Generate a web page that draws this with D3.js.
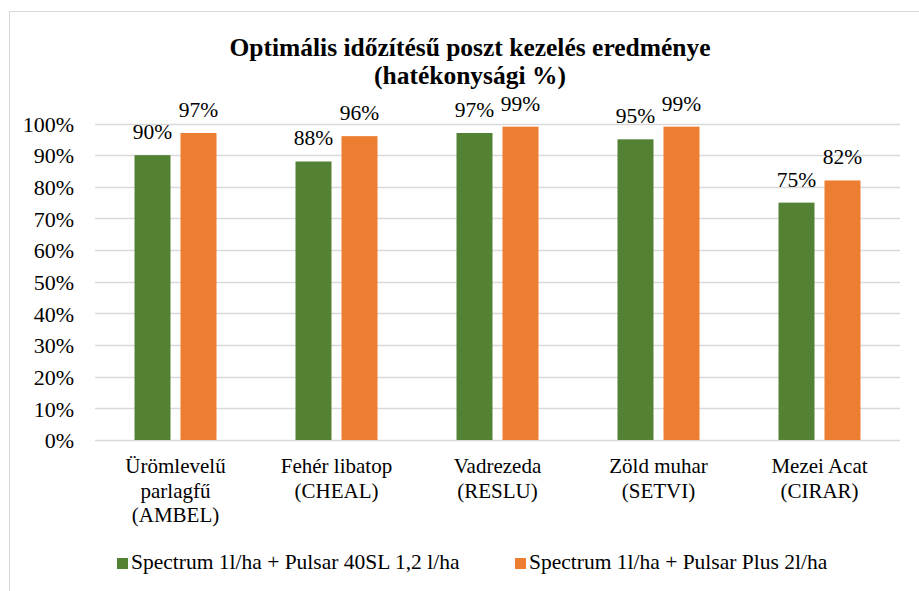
<!DOCTYPE html>
<html>
<head>
<meta charset="utf-8">
<script src="https://cdn.jsdelivr.net/npm/d3@7"></script>
<style>
  body { margin: 0; background: #fff; }
</style>
</head>
<body>
<div id="chart"></div>
<script>
// Chart data
var categories = [
    ["Ürömlevelű", "parlagfű", "(AMBEL)"],
    ["Fehér libatop", "(CHEAL)"],
    ["Vadrezeda", "(RESLU)"],
    ["Zöld muhar", "(SETVI)"],
    ["Mezei Acat", "(CIRAR)"]
];
var seriesNames = [
    "Spectrum 1l/ha + Pulsar 40SL 1,2 l/ha",
    "Spectrum 1l/ha + Pulsar Plus 2l/ha"
];
var seriesA = [0.90, 0.88, 0.97, 0.95, 0.75];
var seriesB = [0.97, 0.96, 0.99, 0.99, 0.82];
var yTicks = [0, 0.1, 0.2, 0.3, 0.4, 0.5, 0.6, 0.7, 0.8, 0.9, 1.0];
var titleLines = ["Optimális időzítésű poszt kezelés eredménye", "(hatékonysági %)"];

var colors = ["#548235", "#ED7D31"];
var serif = "'Liberation Serif', 'Times New Roman', serif";
var fontSize = "21px";

var width = 919;
var height = 591;

var svg = d3.select("#chart").append("svg")
    .attr("width", width)
    .attr("height", height)
    .style("font-family", serif);

// Outer frame of the chart area
svg.append("rect")
    .attr("x", 9.5)
    .attr("y", 11.5)
    .attr("width", 930)
    .attr("height", 600)
    .attr("fill", "none")
    .attr("stroke", "#d9d9d9")
    .attr("stroke-width", 1);

// Title
svg.append("g").selectAll("text")
    .data(titleLines)
    .enter().append("text")
    .attr("x", 470)
    .attr("y", function(d, i) { return 56 + i * 28; })
    .attr("text-anchor", "middle")
    .style("font-family", serif)
    .style("font-weight", "bold")
    .style("font-size", "25.5px")
    .text(function(d) { return d; });

// Scales
var catKeys = d3.range(categories.length);
var x0 = d3.scaleBand()
    .domain(catKeys)
    .range([95, 900]);

var x1 = d3.scaleBand()
    .domain([0, 1])
    .range([0, 82])
    .paddingInner(10 / 46);

var y = d3.scaleLinear()
    .domain([0, 1])
    .range([440, 123.5]);

// Gridlines
svg.append("g").selectAll("line")
    .data(yTicks)
    .enter().append("line")
    .attr("x1", 95)
    .attr("x2", 900)
    .attr("y1", function(d) { return Math.round(y(d)) + 0.5; })
    .attr("y2", function(d) { return Math.round(y(d)) + 0.5; })
    .style("stroke", "#d9d9d9")
    .style("stroke-width", 1.5);

// Y axis labels
var yAxis = d3.axisLeft(y)
    .tickValues(yTicks)
    .tickFormat(d3.format(".0%"))
    .tickSize(0)
    .tickPadding(21);

var yAxisG = svg.append("g")
    .attr("transform", "translate(95,0)")
    .call(yAxis)
    .attr("font-family", null)
    .attr("font-size", null);
yAxisG.select(".domain").remove();
yAxisG.selectAll("text")
    .attr("dy", "0.35em")
    .style("font-family", serif)
    .style("font-size", "22px")
    .style("fill", "#000");

// Bars
var rows = catKeys.map(function(i) {
    return [seriesA[i], seriesB[i]].map(function(v, s) {
        return {cat: i, series: s, value: v};
    });
});

var groups = svg.append("g").selectAll("g")
    .data(rows)
    .enter().append("g")
    .attr("transform", function(d, i) {
        return "translate(" + (x0(i) + x0.bandwidth() / 2 - 41) + ",0)";
    });

groups.selectAll("rect")
    .data(function(d) { return d; })
    .enter().append("rect")
    .attr("x", function(d) { return x1(d.series); })
    .attr("width", x1.bandwidth())
    .attr("y", function(d) { return y(d.value); })
    .attr("height", function(d) { return y(0) - y(d.value); })
    .attr("fill", function(d) { return colors[d.series]; });

// Value labels
groups.selectAll("text")
    .data(function(d) { return d; })
    .enter().append("text")
    .attr("x", function(d) { return x1(d.series) + x1.bandwidth() / 2; })
    .attr("y", function(d) { return y(d.value) - 16; })
    .attr("text-anchor", "middle")
    .style("font-family", serif)
    .style("font-size", "21.5px")
    .text(function(d) { return Math.round(d.value * 100) + "%"; });

// Category labels
var catLabels = svg.append("g").selectAll("text")
    .data(categories)
    .enter().append("text")
    .attr("text-anchor", "middle")
    .attr("x", function(d, i) { return x0(i) + x0.bandwidth() / 2; })
    .style("font-family", serif)
    .style("font-size", fontSize);

catLabels.selectAll("tspan")
    .data(function(d) { return d; })
    .enter().append("tspan")
    .attr("x", function() { return d3.select(this.parentNode).attr("x"); })
    .attr("y", function(d, i) { return 473 + i * 24.5; })
    .text(function(d) { return d; });

// Legend
var legendX = [117, 515];
var legend = svg.append("g").selectAll("g")
    .data(seriesNames)
    .enter().append("g")
    .attr("transform", function(d, i) { return "translate(" + legendX[i] + ",558)"; });

legend.append("rect")
    .attr("width", 11)
    .attr("height", 11)
    .attr("fill", function(d, i) { return colors[i]; });

legend.append("text")
    .attr("x", 14)
    .attr("y", 11)
    .style("font-family", serif)
    .style("font-size", "21.5px")
    .text(function(d) { return d; });
</script>
</body>
</html>
